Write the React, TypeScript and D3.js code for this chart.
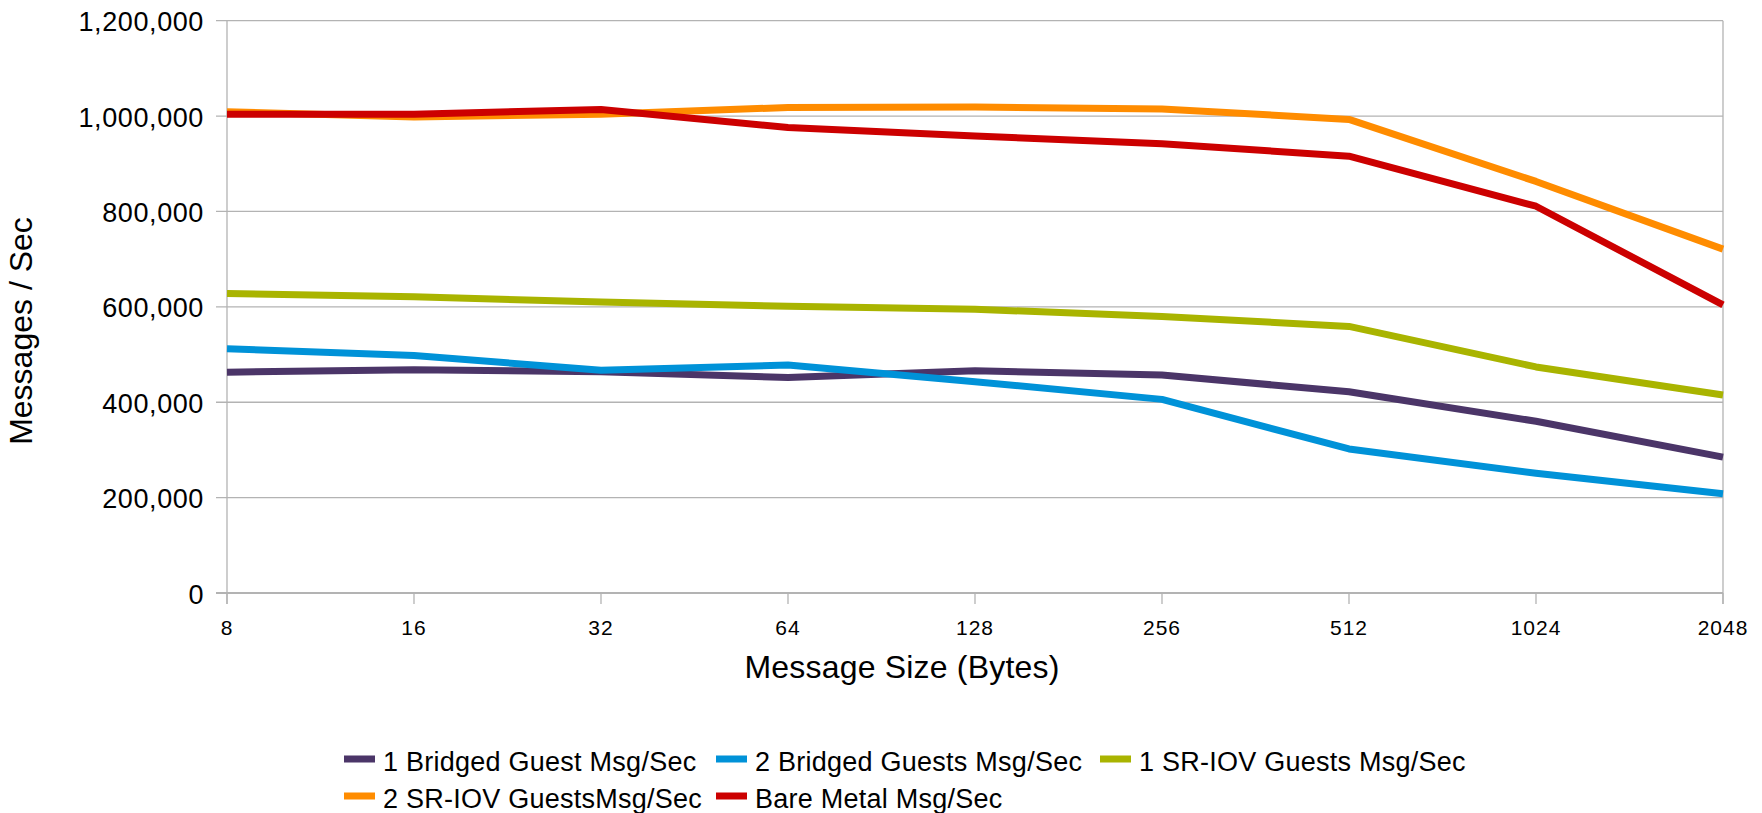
import React, { useEffect, useRef } from "react";
import * as d3 from "d3";

// Message sizes (bytes) along the x axis
const sizes = ["8", "16", "32", "64", "128", "256", "512", "1024", "2048"];

// Throughput series, messages per second
const bridged1 = [463000, 468000, 464000, 452000, 466000, 457000, 422000, 360000, 285000];
const bridged2 = [512000, 498000, 467000, 478000, 443000, 406000, 302000, 251000, 208000];
const sriov1 = [628000, 621000, 610000, 601000, 595000, 580000, 559000, 474000, 415000];
const sriov2 = [1009000, 998000, 1004000, 1018000, 1019000, 1015000, 993000, 863000, 721000];
const bareMetal = [1004000, 1004000, 1014000, 976000, 958000, 942000, 916000, 811000, 604000];

const seriesNames = [
  "1 Bridged Guest Msg/Sec",
  "2 Bridged Guests Msg/Sec",
  "1 SR-IOV Guests Msg/Sec",
  "2 SR-IOV GuestsMsg/Sec",
  "Bare Metal Msg/Sec",
];
const seriesValues = [bridged1, bridged2, sriov1, sriov2, bareMetal];
const seriesColors = ["#4b3568", "#0092d8", "#a9b400", "#ff8c00", "#cc0000"];

const yTicks = [0, 200000, 400000, 600000, 800000, 1000000, 1200000];

const W = 1762;
const H = 813;
const FONT = "'Liberation Sans', Arial, sans-serif";

export default function App() {
  const ref = useRef<SVGSVGElement | null>(null);

  useEffect(() => {
    const svg = d3.select(ref.current);
    svg.selectAll("*").remove();

    const left = 227;
    const right = 1723;
    const top = 20.7;
    const bottom = 593;

    const x = d3.scalePoint<string>().domain(sizes).range([left, right]);
    const y = d3.scaleLinear().domain([0, 1200000]).range([bottom, top]);

    const grid = "#b3b3b3";

    // horizontal gridlines + y tick marks
    const gy = svg.append("g");
    yTicks.forEach((t) => {
      gy.append("line")
        .attr("x1", left - 11)
        .attr("x2", right)
        .attr("y1", y(t))
        .attr("y2", y(t))
        .attr("stroke", grid)
        .attr("stroke-width", t === 0 ? 2 : 1.3);
      gy.append("text")
        .attr("x", 204)
        .attr("y", y(t) + 10.5)
        .attr("text-anchor", "end")
        .attr("font-family", FONT)
        .attr("font-size", 27)
        .attr("letter-spacing", 0.6)
        .attr("fill", "#000")
        .text(d3.format(",")(t));
    });

    // plot frame sides
    svg.append("line")
      .attr("x1", left).attr("x2", left)
      .attr("y1", top).attr("y2", bottom + 11)
      .attr("stroke", grid).attr("stroke-width", 1.3);
    svg.append("line")
      .attr("x1", right).attr("x2", right)
      .attr("y1", top).attr("y2", bottom + 11)
      .attr("stroke", grid).attr("stroke-width", 1.3);

    // x ticks and labels
    const gx = svg.append("g");
    sizes.forEach((s) => {
      const px = x(s) as number;
      gx.append("line")
        .attr("x1", px).attr("x2", px)
        .attr("y1", bottom).attr("y2", bottom + 11)
        .attr("stroke", grid).attr("stroke-width", 1.3);
      gx.append("text")
        .attr("x", px)
        .attr("y", 634.5)
        .attr("text-anchor", "middle")
        .attr("font-family", FONT)
        .attr("font-size", 21)
        .attr("letter-spacing", 1)
        .attr("fill", "#000")
        .text(s);
    });

    // series lines
    const line = d3
      .line<number>()
      .x((_, i) => x(sizes[i]) as number)
      .y((v) => y(v));

    seriesValues.forEach((vals, i) => {
      svg.append("path")
        .attr("d", line(vals) as string)
        .attr("fill", "none")
        .attr("stroke", seriesColors[i])
        .attr("stroke-width", 7)
        .attr("stroke-linejoin", "round")
        .attr("stroke-linecap", "butt");
    });

    // axis titles
    svg.append("text")
      .attr("x", 902)
      .attr("y", 678)
      .attr("text-anchor", "middle")
      .attr("font-family", FONT)
      .attr("font-size", 32)
      .attr("letter-spacing", 0.2)
      .attr("fill", "#000")
      .text("Message Size (Bytes)");

    svg.append("text")
      .attr("transform", "translate(32,331) rotate(-90)")
      .attr("text-anchor", "middle")
      .attr("font-family", FONT)
      .attr("font-size", 32)
      .attr("fill", "#000")
      .text("Messages / Sec");

    // legend, three columns per row
    const colX = [344, 716, 1100];
    const rowY = [759, 796];
    seriesNames.forEach((name, i) => {
      const cx = colX[i % 3];
      const cy = rowY[Math.floor(i / 3)];
      svg.append("rect")
        .attr("x", cx)
        .attr("y", cy - 3.5)
        .attr("width", 31)
        .attr("height", 7)
        .attr("fill", seriesColors[i]);
      svg.append("text")
        .attr("x", cx + 39)
        .attr("y", cy + 12)
        .attr("font-family", FONT)
        .attr("font-size", 27)
        .attr("letter-spacing", 0.25)
        .attr("fill", "#000")
        .text(name);
    });
  }, []);

  return (
    <svg
      ref={ref}
      width={W}
      height={H}
      style={{ position: "absolute", left: 0, top: 0, background: "#fff" }}
    />
  );
}
